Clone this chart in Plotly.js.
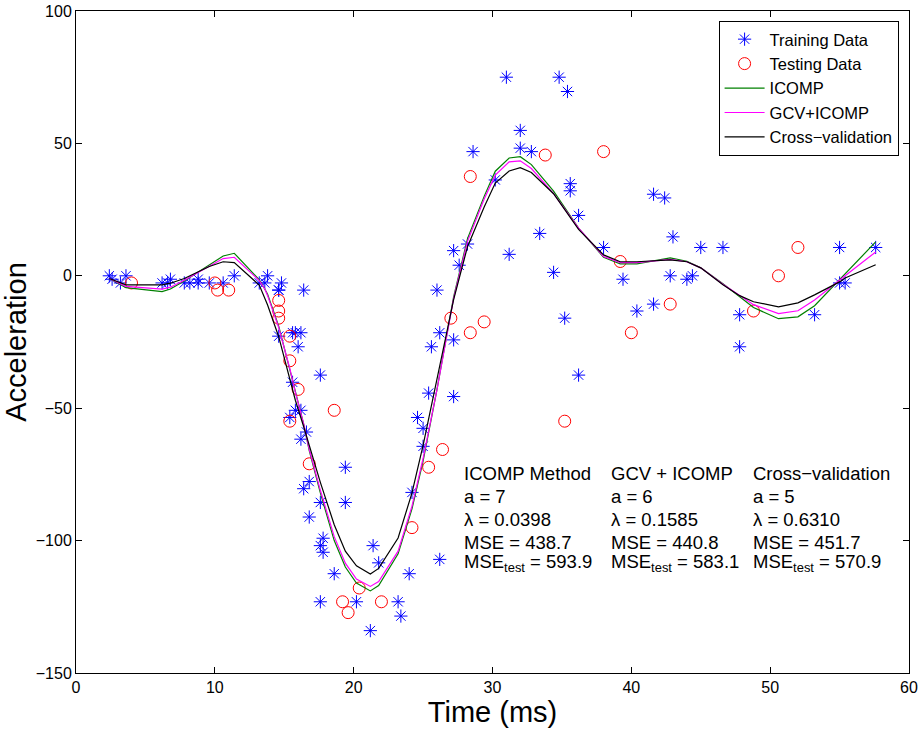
<!DOCTYPE html>
<html>
<head>
<meta charset="utf-8">
<script src="https://cdn.plot.ly/plotly-3.0.1.min.js"></script>
<style>html,body{margin:0;padding:0;background:#fff;}#chart{width:924px;height:732px;}</style>
</head>
<body>
<div id="chart"></div>
<script>
// Training data (blue asterisks)
const trainX = [2.4,2.6,3.2,3.6,6.2,6.6,6.8,7.8,8.2,8.8,8.8,9.6,10.6,11.4,13.2,13.6,13.8,14.6,14.6,14.6,14.8,15.4,15.6,15.6,15.8,15.8,16.0,16.2,16.2,16.2,16.4,16.4,16.6,16.8,16.8,17.6,17.6,17.6,17.6,17.8,17.8,18.6,19.4,19.4,20.2,21.2,21.4,21.8,23.2,23.4,24.0,24.2,24.6,25.0,25.0,25.4,25.6,26.0,26.2,26.2,27.2,27.2,27.2,27.6,28.2,28.6,30.2,31.0,31.2,32.0,32.0,32.8,33.4,34.4,34.8,35.2,35.4,35.6,35.6,36.2,36.2,38.0,39.4,40.4,41.6,41.6,42.4,42.8,43.0,44.0,44.4,45.0,46.6,47.8,47.8,53.2,55.0,55.0,55.4,57.6];
const trainY = [0.0,-1.3,-2.7,0.0,-2.7,-2.7,-1.3,-2.7,-2.7,-1.3,-2.7,-2.7,-2.7,0.0,-2.7,-2.7,0.0,-5.4,-5.4,-22.8,-2.7,-53.5,-40.2,-21.5,-21.5,-50.8,-26.8,-21.5,-50.8,-61.7,-5.4,-80.4,-59.0,-91.1,-77.7,-37.5,-85.6,-123.1,-101.9,-99.1,-104.4,-112.5,-85.6,-72.3,-123.1,-134.0,-101.9,-108.4,-123.1,-128.5,-112.5,-81.8,-53.5,-64.4,-57.6,-44.3,-26.8,-5.4,-107.1,-21.5,-45.6,-24.2,9.5,4.0,12.0,46.9,36.2,75.0,8.1,54.9,48.2,46.9,16.0,1.3,75.0,-16.0,69.6,34.8,32.1,-37.5,22.8,10.7,-1.3,-13.3,30.8,-10.7,29.4,0.0,14.7,-1.3,0.0,10.7,10.7,-26.8,-14.7,-14.7,-2.7,10.7,-2.7,10.7];

// Testing data (red circles)
const testX = [4.0,10.0,10.2,11.0,14.6,14.6,14.6,15.4,15.4,15.4,16.0,16.8,18.6,19.2,19.6,20.4,22.0,24.2,25.4,26.4,27.0,28.4,28.4,29.4,33.8,35.2,38.0,39.2,40.0,42.8,48.8,50.6,52.0];
const testY = [-2.7,-2.7,-5.4,-5.4,-9.3,-13.3,-16.0,-22.8,-32.1,-54.9,-42.9,-71.0,-50.8,-123.1,-127.2,-117.9,-123.1,-95.1,-72.3,-65.6,-16.0,-21.5,37.5,-17.4,45.6,-54.9,46.9,5.4,-21.5,-10.7,-13.3,0.0,10.7];

// Fitted curves
const fitX = [2.4,3.6,6.2,6.8,7.8,8.8,9.6,10.6,11.4,13.2,13.6,13.8,14.6,15.4,15.8,16.4,16.8,17.6,18.6,19.4,20.2,21.2,21.8,23.2,24.2,25.0,26.0,27.2,28.2,29.4,30.2,31.2,32.0,32.8,34.4,36.2,38.0,39.2,40.4,42.8,44.0,45.0,46.6,47.8,48.8,50.6,52.0,53.2,55.0,55.4,57.6];
const icompY = [-1,-4.5,-6,-5,-2,1.5,4,7.5,8.5,-1.5,-5,-7,-19,-35,-44,-56,-66,-82,-100,-110,-116,-119,-117,-105,-88,-70,-43,-8,14,30,39.5,44.5,45,42,32,18,7,4.5,4.5,6.8,5.5,3,-3,-8,-12,-16.2,-15.5,-11.3,-1.5,0.5,12.8];
const gcvY = [-1,-4,-5,-4.3,-1.7,1.2,3.5,6.5,7,-1.8,-5,-7.5,-19.5,-35,-44,-56,-65.5,-81,-98.5,-108.5,-114.5,-117.3,-115.5,-104,-87,-69,-43,-8.5,13,29,38,43,43.4,40.5,31,18,7.3,5,5,6.2,5.3,3,-3.2,-7.5,-10.9,-14.3,-13.2,-9.1,-1.5,0,9];
const cvY = [-1,-3.4,-3.4,-2.8,-1,1.5,3.5,5.3,5,-3.5,-9,-11,-23,-39,-47,-57,-64,-78,-94,-104,-109.5,-112.6,-110.5,-99,-82,-64,-39,-9,11,26,35,39.6,40.8,39,31,17.5,7.9,5.3,5.3,6,5.3,3,-3.4,-7.5,-9.8,-11.7,-10.2,-7.2,-2.3,-0.8,4.2];

// Annotation text
const colHeads = ["ICOMP Method","GCV + ICOMP","Cross\u2212validation"];
const colA = ["a = 7","a = 6","a = 5"];
const colLam = ["\u03bb = 0.0398","\u03bb = 0.1585","\u03bb = 0.6310"];
const colMSE = ["MSE = 438.7","MSE = 440.8","MSE = 451.7"];
const colMSEtest = ["593.9","583.1","570.9"];
const colX = [27.8, 38.4, 48.6];

const FONT = "Liberation Sans, Arial, Helvetica, sans-serif";

const traces = [
  {x: trainX, y: trainY, mode: 'markers', name: 'Training Data', type: 'scatter',
   marker: {symbol: 'asterisk-open', color: '#0000ff', size: 11, line: {color: '#0000ff', width: 1}}},
  {x: testX, y: testY, mode: 'markers', name: 'Testing Data', type: 'scatter',
   marker: {symbol: 'circle-open', color: '#ff0000', size: 12, line: {color: '#ff0000', width: 1}}},
  {x: fitX, y: icompY, mode: 'lines', name: 'ICOMP', type: 'scatter', line: {color: '#008000', width: 1.2}},
  {x: fitX, y: gcvY, mode: 'lines', name: 'GCV+ICOMP', type: 'scatter', line: {color: '#ff00ff', width: 1.2}},
  {x: fitX, y: cvY, mode: 'lines', name: 'Cross\u2212validation', type: 'scatter', line: {color: '#000000', width: 1.2}}
];

const rowsY = [-74.5, -83.3, -92, -100.8];
const annotations = [];
for (let i = 0; i < 3; i++) {
  const lines = [colHeads[i], colA[i], colLam[i], colMSE[i]];
  for (let r = 0; r < 4; r++) {
    annotations.push({x: colX[i], y: rowsY[r], xref: 'x', yref: 'y', text: lines[r], showarrow: false,
      xanchor: 'left', yanchor: 'middle', font: {family: FONT, size: 18.5, color: '#000'}});
  }
  annotations.push({x: colX[i], y: -108.4, xref: 'x', yref: 'y',
    text: 'MSE<sub>test</sub> = ' + colMSEtest[i], showarrow: false,
    xanchor: 'left', yanchor: 'middle', font: {family: FONT, size: 18.5, color: '#000'}});
}

const layout = {
  width: 924, height: 732,
  margin: {l: 76, r: 15, t: 11, b: 59},
  paper_bgcolor: '#fff', plot_bgcolor: '#fff',
  font: {family: FONT, color: '#000'},
  showlegend: true,
  legend: {x: 0.9875, y: 0.985, xanchor: 'right', yanchor: 'top', bgcolor: '#fff',
    bordercolor: '#000', borderwidth: 1, font: {family: FONT, size: 16.5}, tracegroupgap: 0, itemwidth: 40},
  xaxis: {range: [0, 60], dtick: 10, tick0: 0, showgrid: false, zeroline: false, showline: true,
    linecolor: '#000', linewidth: 1, mirror: 'ticks', ticks: 'inside', ticklen: 6, tickcolor: '#000',
    tickfont: {family: FONT, size: 16}, title: {text: 'Time (ms)', font: {family: FONT, size: 29}, standoff: 4}},
  yaxis: {range: [-150, 100], dtick: 50, tick0: 0, showgrid: false, zeroline: false, showline: true,
    linecolor: '#000', linewidth: 1, mirror: 'ticks', ticks: 'inside', ticklen: 6, tickcolor: '#000',
    tickfont: {family: FONT, size: 16}, title: {text: 'Acceleration', font: {family: FONT, size: 29}, standoff: 4}},
  annotations: annotations
};

Plotly.newPlot('chart', traces, layout, {displayModeBar: false, staticPlot: true});
</script>
</body>
</html>
